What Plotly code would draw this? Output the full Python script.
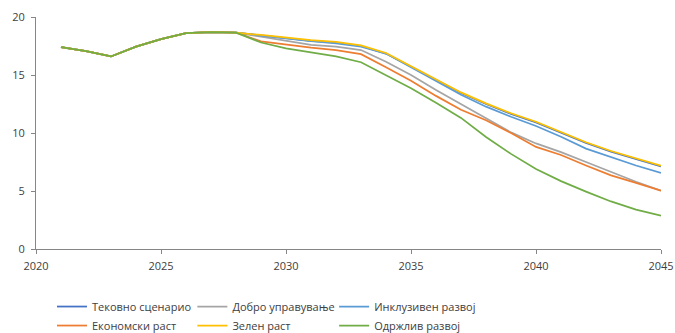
import plotly.graph_objects as go

years = list(range(2021, 2046))

common = [17.4, 17.05, 16.6, 17.45, 18.1, 18.6, 18.7, 18.65]

tekovno = common + [18.42, 18.17, 17.95, 17.8, 17.5, 16.85, 15.7, 14.55, 13.45, 12.5, 11.65, 10.92, 10.05, 9.15, 8.4, 7.75, 7.13]
dobro = common + [18.3, 17.95, 17.6, 17.45, 17.15, 16.15, 15.0, 13.7, 12.5, 11.3, 10.05, 9.1, 8.35, 7.5, 6.65, 5.8, 5.03]
inkluziven = common + [18.4, 18.15, 17.93, 17.73, 17.45, 16.85, 15.65, 14.45, 13.3, 12.27, 11.4, 10.6, 9.68, 8.65, 7.9, 7.2, 6.55]
ekonomski = common + [17.9, 17.6, 17.35, 17.15, 16.8, 15.66, 14.5, 13.2, 12.0, 11.1, 10.0, 8.8, 8.1, 7.2, 6.35, 5.7, 5.03]
zelen = common + [18.45, 18.2, 18.0, 17.85, 17.55, 16.9, 15.75, 14.6, 13.5, 12.55, 11.7, 10.97, 10.1, 9.2, 8.45, 7.8, 7.18]
odrzliv = common + [17.8, 17.3, 16.95, 16.6, 16.1, 15.0, 13.85, 12.6, 11.3, 9.65, 8.2, 6.9, 5.85, 4.95, 4.1, 3.4, 2.87]

series = [
    ("Тековно сценарио", tekovno, "#4472C4", "legend"),
    ("Добро управување", dobro, "#A5A5A5", "legend2"),
    ("Инклузивен развој", inkluziven, "#5B9BD5", "legend3"),
    ("Економски раст", ekonomski, "#ED7D31", "legend"),
    ("Зелен раст", zelen, "#FFC000", "legend2"),
    ("Одржлив развој", odrzliv, "#70AD47", "legend3"),
]

fig = go.Figure()
for name, vals, color, leg in series:
    fig.add_trace(go.Scatter(x=years, y=vals, name=name, mode="lines",
                             legend=leg,
                             line=dict(color=color, width=1.75)))

axis_common = dict(showgrid=False, zeroline=False, showline=True,
                   linecolor="#868686", linewidth=1, ticks="outside",
                   ticklen=4, tickcolor="#868686", automargin=False,
                   tickfont=dict(family="Open Sans", size=11, color="#404040"))

leg_font = dict(family="Open Sans", size=11, color="#404040")
leg_common = dict(orientation="v", xref="container", yref="container",
                  xanchor="left", y=0.123, yanchor="top", itemwidth=30,
                  font=leg_font, bgcolor="rgba(0,0,0,0)")

fig.update_layout(
    width=675, height=333,
    margin=dict(l=36, r=14, t=17, b=84, autoexpand=False),
    paper_bgcolor="white", plot_bgcolor="white",
    font=dict(family="Open Sans", size=11, color="#404040"),
    xaxis=dict(range=[2020, 2045], tickmode="linear", tick0=2020, dtick=5,
               ticklabelstandoff=3, **axis_common),
    yaxis=dict(range=[0, 20], tickmode="linear", tick0=0, dtick=5,
               ticklabelstandoff=4, **axis_common),
    legend=dict(x=0.077, **leg_common),
    legend2=dict(x=0.285, **leg_common),
    legend3=dict(x=0.495, **leg_common),
)

# remove the default 8px page margin so the figure fills the window exactly
fig.write_html("out.html",
               config={"displayModeBar": False},
               post_script="document.body.style.margin='0';"
                           "document.body.style.overflow='hidden';")
